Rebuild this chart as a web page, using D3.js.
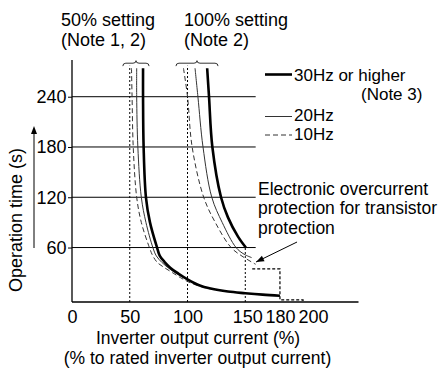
<!DOCTYPE html>
<html>
<head>
<meta charset="utf-8">
<script src="https://cdn.jsdelivr.net/npm/d3@7"></script>
<style>
  body { margin: 0; background: #fff; }
  svg { display: block; }
  text { font-family: "Liberation Sans", Arial, sans-serif; font-size: 18px; fill: #000; }
</style>
</head>
<body>
<svg id="chart"></svg>
<script>
var width = 445, height = 368;

// operating characteristic, [output current %, operation time s]
var hz30_50 = [[61.5,274],[61.5,240],[62,180],[64,120],[67.5,90],[73.6,60],[76,50],[80,43],[85,36],[92,29],[100,22],[110,15],[120,11],[135,7.5],[150,5.5],[165,3.8],[180,2.5]];
var hz20_50 = [[56,274],[56,240],[57,180],[60,120],[64,90],[70,60],[73,50],[78,42],[85,34],[92,27.5],[100,21.5],[110,15],[120,11]];
var hz10_50 = [[51.5,274],[52,240],[53,180],[56,120],[60,90],[67,60],[70,50],[74,42],[80,36],[87,30],[94,24],[100,19.5],[110,14],[120,10.5]];

var hz30_100 = [[117,274],[118.6,240],[121.5,180],[129,120],[135,96],[143.7,73],[150.5,60]];
var hz20_100 = [[106.5,274],[109,240],[113.4,180],[121,120],[130,90],[142,60],[149,52],[155.5,48]];
var hz10_100 = [[96.5,274],[100,240],[104,180],[114,120],[124,90],[137.7,60],[148,49],[159,40]];

// transistor protection step
var stepLine = [[156,34.5],[180,34.5],[180,-2.5],[200,-2.5],[200,-5]];

var xTicks = [0, 50, 100, 150, 180, 200];
var xTickShift = {150: 2, 200: 10};
var yTicks = [60, 120, 180, 240];
var settingLines = [50, 100];
// bracket spans [left, peak, right]
var brackets = [[44, 55.4, 66.7], [90, 108.2, 126.4]];

var svg = d3.select("#chart").attr("width", width).attr("height", height);

var x = d3.scaleLinear().domain([0, 248]).range([72, 358.5]);
var y = d3.scaleLinear().domain([-5, 285]).range([302, 59]);

var line = d3.line()
  .x(function(d) { return x(d[0]); })
  .y(function(d) { return y(d[1]); })
  .curve(d3.curveCatmullRom.alpha(0.5));

var straight = d3.line()
  .x(function(d) { return x(d[0]); })
  .y(function(d) { return y(d[1]); });

// gridlines
svg.append("g").selectAll("line")
  .data(yTicks)
  .enter().append("line")
  .attr("x1", x(0)).attr("x2", x(159))
  .attr("y1", function(d) { return y(d); })
  .attr("y2", function(d) { return y(d); })
  .attr("stroke", "#000").attr("stroke-width", 1);

// setting dotted verticals
svg.append("g").selectAll("line")
  .data(settingLines)
  .enter().append("line")
  .attr("x1", function(d) { return x(d); })
  .attr("x2", function(d) { return x(d); })
  .attr("y1", y(-5)).attr("y2", y(277))
  .attr("stroke", "#000").attr("stroke-width", 1)
  .attr("stroke-dasharray", "2,2");

svg.append("path")
  .attr("d", straight([[150,-5],[150,60]]))
  .attr("fill", "none").attr("stroke", "#000").attr("stroke-width", 1)
  .attr("stroke-dasharray", "2,2");

svg.append("path")
  .attr("d", straight(stepLine))
  .attr("fill", "none").attr("stroke", "#000").attr("stroke-width", 1.2)
  .attr("stroke-dasharray", "3,2");

// brackets
svg.append("g").selectAll("path")
  .data(brackets)
  .enter().append("path")
  .attr("d", function(b) {
    var x0 = x(b[0]), p = x(b[1]), x1 = x(b[2]);
    var yl = y(280), ye = y(276.5), yp = y(283);
    return "M" + x0 + "," + ye + "Q" + x0 + "," + yl + " " + (x0 + 3) + "," + yl +
      "L" + (p - 3) + "," + yl + "Q" + p + "," + yl + " " + p + "," + yp +
      "Q" + p + "," + yl + " " + (p + 3) + "," + yl +
      "L" + (x1 - 3) + "," + yl + "Q" + x1 + "," + yl + " " + x1 + "," + ye;
  })
  .attr("fill", "none").attr("stroke", "#000").attr("stroke-width", 0.8);

// curves
var styles = {
  hz30: {w: 2.6, c: "#000", dash: null},
  hz20: {w: 1, c: "#333", dash: null},
  hz10: {w: 1, c: "#333", dash: "5,3"}
};
var curves = [
  [hz10_50, styles.hz10], [hz20_50, styles.hz20], [hz30_50, styles.hz30],
  [hz10_100, styles.hz10], [hz20_100, styles.hz20], [hz30_100, styles.hz30]
];
curves.forEach(function(c) {
  svg.append("path")
    .attr("d", line(c[0]))
    .attr("fill", "none")
    .attr("stroke", c[1].c)
    .attr("stroke-width", c[1].w)
    .attr("stroke-dasharray", c[1].dash);
});

// axes
svg.append("line")
  .attr("x1", x(0)).attr("x2", x(0)).attr("y1", y(-5)).attr("y2", 60)
  .attr("stroke", "#000").attr("stroke-width", 1.3);
svg.append("line")
  .attr("x1", x(0)).attr("x2", x(248)).attr("y1", y(-5)).attr("y2", y(-5))
  .attr("stroke", "#000").attr("stroke-width", 1.3);

var yAxis = svg.append("g")
  .attr("transform", "translate(" + x(0) + ",0)")
  .call(d3.axisLeft(y).tickValues(yTicks).tickSize(4).tickPadding(1.5));
yAxis.select(".domain").remove();
yAxis.selectAll("text").style("font-size", "18px").style("font-family", "'Liberation Sans', Arial, sans-serif");
yAxis.selectAll("line").attr("stroke", "#000");

var xAxis = svg.append("g")
  .attr("transform", "translate(0," + y(-5) + ")")
  .call(d3.axisBottom(x).tickValues(xTicks).tickSize(0).tickPadding(8.7).tickFormat(d3.format("d")));
xAxis.select(".domain").remove();
xAxis.selectAll("text")
  .attr("dx", function(d) { return xTickShift[d] || 0; })
  .style("font-size", "18px").style("font-family", "'Liberation Sans', Arial, sans-serif");

// axis titles
svg.append("text").attr("x", 198).attr("y", 344).attr("text-anchor", "middle")
  .style("font-size", "17.5px").text("Inverter output current (%)");
svg.append("text").attr("x", 197.5).attr("y", 364).attr("text-anchor", "middle")
  .style("font-size", "17.5px").text("(% to rated inverter output current)");
svg.append("text")
  .attr("transform", "translate(22,220) rotate(-90)")
  .attr("text-anchor", "middle")
  .text("Operation time (s)");

// y arrow
svg.append("line").attr("x1", 34).attr("x2", 34).attr("y1", 248).attr("y2", 132)
  .attr("stroke", "#000").attr("stroke-width", 1);
svg.append("path").attr("d", "M34,126L31,134L37,134Z").attr("fill", "#000");

// setting labels
svg.append("text").attr("x", 61).attr("y", 25.5).text("50% setting");
svg.append("text").attr("x", 61).attr("y", 46).text("(Note 1, 2)");
svg.append("text").attr("x", 184).attr("y", 25.5).text("100% setting");
svg.append("text").attr("x", 184).attr("y", 46).text("(Note 2)");

// legend
var legend = [
  {label: "30Hz or higher", ly: 74.5, ty: 81, s: styles.hz30},
  {label: "20Hz", ly: 116.5, ty: 121, s: styles.hz20},
  {label: "10Hz", ly: 135, ty: 140, s: styles.hz10}
];
legend.forEach(function(l) {
  svg.append("line").attr("x1", 265).attr("x2", 292).attr("y1", l.ly).attr("y2", l.ly)
    .attr("stroke", l.s.c).attr("stroke-width", l.s.w).attr("stroke-dasharray", l.s.dash);
  svg.append("text").attr("x", 294).attr("y", l.ty).style("font-size", "17px").text(l.label);
});
svg.append("text").attr("x", 361).attr("y", 100).style("font-size", "17px").text("(Note 3)");

// annotation
svg.append("text").attr("x", 258).attr("y", 194.5).style("font-size", "17.5px").text("Electronic overcurrent");
svg.append("text").attr("x", 258).attr("y", 214).style("font-size", "17.5px").text("protection for transistor");
svg.append("text").attr("x", 258).attr("y", 233.5).style("font-size", "17.5px").text("protection");

var tip = [x(159.3), y(42.7)], tail = [x(194.8), y(66.6)];
svg.append("line").attr("x1", tail[0]).attr("y1", tail[1]).attr("x2", tip[0]).attr("y2", tip[1])
  .attr("stroke", "#000").attr("stroke-width", 1);
var ang = Math.atan2(tip[1] - tail[1], tip[0] - tail[0]);
var hl = 8, hw = 3;
var bx = tip[0] - hl * Math.cos(ang), by = tip[1] - hl * Math.sin(ang);
svg.append("path")
  .attr("d", "M" + tip[0] + "," + tip[1] +
    "L" + (bx + hw * Math.sin(ang)) + "," + (by - hw * Math.cos(ang)) +
    "L" + (bx - hw * Math.sin(ang)) + "," + (by + hw * Math.cos(ang)) + "Z")
  .attr("fill", "#000");
</script>
</body>
</html>
